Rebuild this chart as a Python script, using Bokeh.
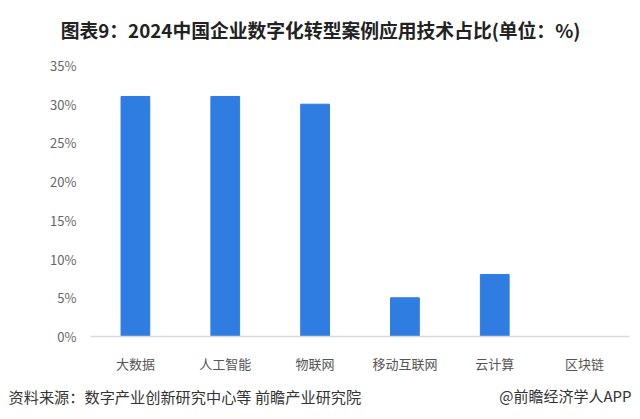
from bokeh.plotting import figure
from bokeh.layouts import column
from bokeh.models import FixedTicker, Range1d, CustomJSTickFormatter
from bokeh.core.properties import value
from bokeh.embed import file_html
from bokeh.resources import INLINE

categories = ["大数据", "人工智能", "物联网", "移动互联网", "云计算", "区块链"]
values = [31, 31, 30, 5, 8, 0]
y_ticks = [0, 5, 10, 15, 20, 25, 30, 35]

title_text = "图表9：2024中国企业数字化转型案例应用技术占比(单位：%)"
source_text = "资料来源：数字产业创新研究中心等 前瞻产业研究院"
brand_text = "@前瞻经济学人APP"

FONT = "Noto Sans CJK SC"
W = 632


def text_strip(height):
    f = figure(width=W, height=height, x_range=Range1d(0, W), y_range=Range1d(0, height),
               output_backend="svg", toolbar_location=None, frame_align=False,
               x_axis_type=None, y_axis_type=None, min_border=0)
    f.outline_line_color = None
    f.grid.grid_line_color = None
    return f


# header strip with the title
header = text_strip(45)
header.text(x=[320], y=[16], text=[title_text], text_font=value(FONT),
            text_font_style="bold", text_font_size="18.8px", text_color="#222222",
            text_align="center", text_baseline="middle")

# main chart
p = figure(x_range=categories, y_range=Range1d(0, 35), width=W, height=330,
           output_backend="svg", toolbar_location=None, frame_align=False,
           min_border_left=90, min_border_right=3, min_border_top=20, min_border_bottom=37)
p.outline_line_color = None
p.xgrid.grid_line_color = None
p.ygrid.grid_line_color = None

p.vbar(x=categories, top=values, width=0.32, color="#2f7de1")

p.yaxis.ticker = FixedTicker(ticks=y_ticks)
p.yaxis.formatter = CustomJSTickFormatter(code="return tick + '%';")
p.yaxis.axis_line_color = None
p.yaxis.major_tick_line_color = None
p.yaxis.minor_tick_line_color = None
p.yaxis.major_label_text_color = "#666666"
p.yaxis.major_label_text_font = FONT
p.yaxis.major_label_text_font_size = "13px"
p.yaxis.major_label_standoff = 8

p.xaxis.axis_line_color = "#d9d9d9"
p.xaxis.axis_line_width = 1.5
p.xaxis.major_tick_line_color = None
p.xaxis.minor_tick_line_color = None
p.xaxis.major_label_text_color = "#555555"
p.xaxis.major_label_text_font = FONT
p.xaxis.major_label_text_font_size = "13px"
p.xaxis.major_label_standoff = 11

# footer strip with the source and brand
footer = text_strip(36)
footer.text(x=[8], y=[16], text=[source_text], text_font=value(FONT),
            text_font_size="15.2px", text_color="#333333",
            text_align="left", text_baseline="middle")
footer.text(x=[W - 1], y=[16], text=[brand_text], text_font=value(FONT),
            text_font_size="15px", text_color="#333333",
            text_align="right", text_baseline="middle")

layout = column(header, p, footer, spacing=0)
open("out.html", "w").write(file_html(layout, INLINE))
